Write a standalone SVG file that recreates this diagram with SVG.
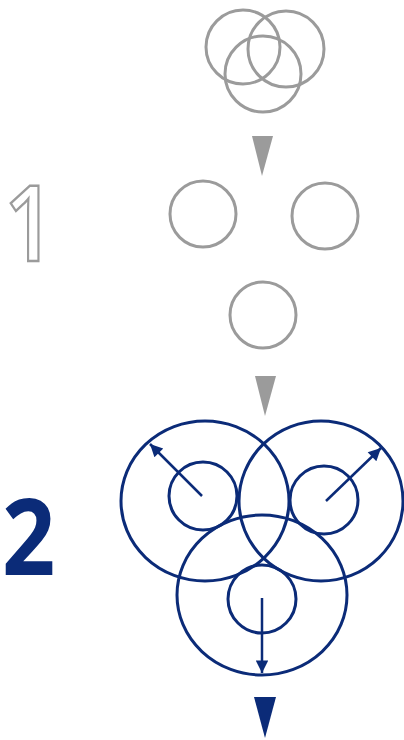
<svg xmlns="http://www.w3.org/2000/svg" width="404" height="740" viewBox="0 0 404 740">
<style>
.g{fill:none;stroke:#9b9b9b;stroke-width:3}
.b{fill:none;stroke:#0b2b78;stroke-width:3}
.gt{fill:#9b9b9b}
.bt{fill:#0b2b78}
.ba{stroke:#0b2b78;stroke-width:2.5;fill:none}
</style>
<defs>
<marker id="ah" viewBox="0 0 10 10" refX="10" refY="5" markerWidth="6" markerHeight="5" markerUnits="strokeWidth" orient="auto">
<path d="M0,0 L10,5 L0,10 Z" fill="#0b2b78"/>
</marker>
</defs>
<rect width="404" height="740" fill="#fff"/>
<g id="label1"><text transform="translate(4,261) scale(0.85,1)" font-family="Open Sans, sans-serif" font-weight="600" font-size="106" fill="none" stroke="#9b9b9b" stroke-width="2.5">1</text></g>
<g id="label2"><text transform="translate(2,575) scale(0.88,1)" font-family="Open Sans, sans-serif" font-weight="bold" font-size="106" fill="#0b2b78">2</text></g>
<g id="venn-top">
<circle class="g" cx="243" cy="47" r="37"/>
<circle class="g" cx="286" cy="49" r="38"/>
<circle class="g" cx="263" cy="74" r="38"/>
</g>
<g id="separated">
<circle class="g" cx="203" cy="214" r="33"/>
<circle class="g" cx="325" cy="216" r="33"/>
<circle class="g" cx="263" cy="315" r="33"/>
</g>
<g id="expanded">
<ellipse class="b" cx="205" cy="501" rx="84" ry="80"/>
<ellipse class="b" cx="321" cy="501" rx="82" ry="80"/>
<ellipse class="b" cx="262" cy="595" rx="85" ry="80"/>
<circle class="b" cx="203" cy="496" r="34"/>
<circle class="b" cx="324" cy="500" r="34"/>
<circle class="b" cx="262" cy="599" r="34"/>
</g>
<g id="connectors">
<polygon class="gt" points="252,136 273,136 262,176"/>
<polygon class="gt" points="255,376 276,376 265,416"/>
<polygon class="bt" points="254,697 276,697 265,738"/>
<line class="ba" x1="202" y1="496" x2="150" y2="444" marker-end="url(#ah)"/>
<line class="ba" x1="326" y1="501" x2="381" y2="448" marker-end="url(#ah)"/>
<line class="ba" x1="262" y1="598" x2="262" y2="673" marker-end="url(#ah)"/>
</g>
</svg>
